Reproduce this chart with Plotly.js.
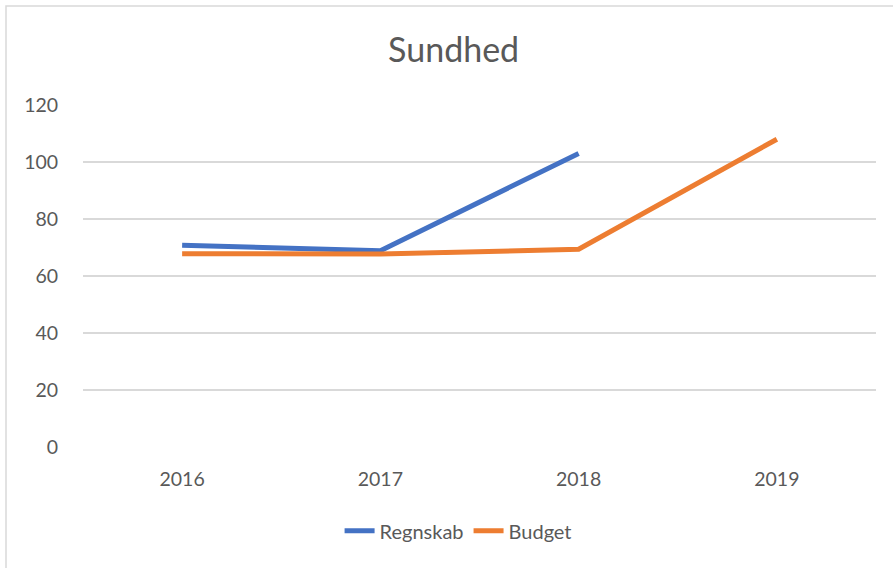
<!DOCTYPE html>
<html>
<head>
<meta charset="utf-8">
<script src="https://cdn.plot.ly/plotly-3.0.1.min.js"></script>
<style>html,body{margin:0;padding:0;background:#fff;}#chart{width:893px;height:568px;}</style>
</head>
<body>
<div id="chart"></div>
<script>
var categories = ["2016", "2017", "2018", "2019"];
var regnskab = [70.8, 68.9, 103.0, null];
var budget = [67.8, 67.7, 69.4, 108.0];
var yTicks = [0, 20, 40, 60, 80, 100, 120];

var fontFamily = "Lato, 'Open Sans', sans-serif";
var traces = [
  {x: categories, y: regnskab, name: "Regnskab", type: "scatter", mode: "lines",
   line: {color: "#4472C4", width: 5}, connectgaps: false},
  {x: categories, y: budget, name: "Budget", type: "scatter", mode: "lines",
   line: {color: "#ED7D31", width: 5}}
];
var layout = {
  width: 893, height: 568,
  margin: {l: 83, r: 17, t: 105, b: 121},
  paper_bgcolor: "#fff", plot_bgcolor: "#fff",
  showlegend: true,
  title: {text: "Sundhed", font: {family: fontFamily, size: 34, color: "#595959"},
          x: 0.508, xref: "container", xanchor: "center", y: 0.912, yref: "container", yanchor: "middle"},
  xaxis: {type: "category", range: [-0.5, 3.5], showgrid: false, zeroline: false,
          showline: false, ticks: "outside", ticklen: 15, tickcolor: "rgba(0,0,0,0)",
          tickfont: {family: fontFamily, size: 19.5, color: "#595959"}, fixedrange: true},
  yaxis: {range: [0, 120], tickvals: yTicks, ticktext: yTicks.map(String),
          showgrid: true, gridcolor: "#d9d9d9", gridwidth: 1.5, zeroline: false, showline: false,
          ticks: "outside", ticklen: 20, tickcolor: "rgba(0,0,0,0)",
          tickfont: {family: fontFamily, size: 19.5, color: "#595959"}, fixedrange: true},
  legend: {orientation: "h", x: 0.473, xanchor: "center", y: -0.245, yanchor: "middle",
           font: {family: fontFamily, size: 20, color: "#595959"}, itemwidth: 30, traceorder: "normal"},
  shapes: [{type: "rect", xref: "paper", yref: "paper",
            x0: (6 - 83) / 793, x1: 1.2, y0: -0.6, y1: (447 - 6) / 342,
            line: {color: "#d9d9d9", width: 1.5}, fillcolor: "rgba(0,0,0,0)", layer: "below"}]
};
Plotly.newPlot("chart", traces, layout, {displayModeBar: false, staticPlot: true});
</script>
</body>
</html>
